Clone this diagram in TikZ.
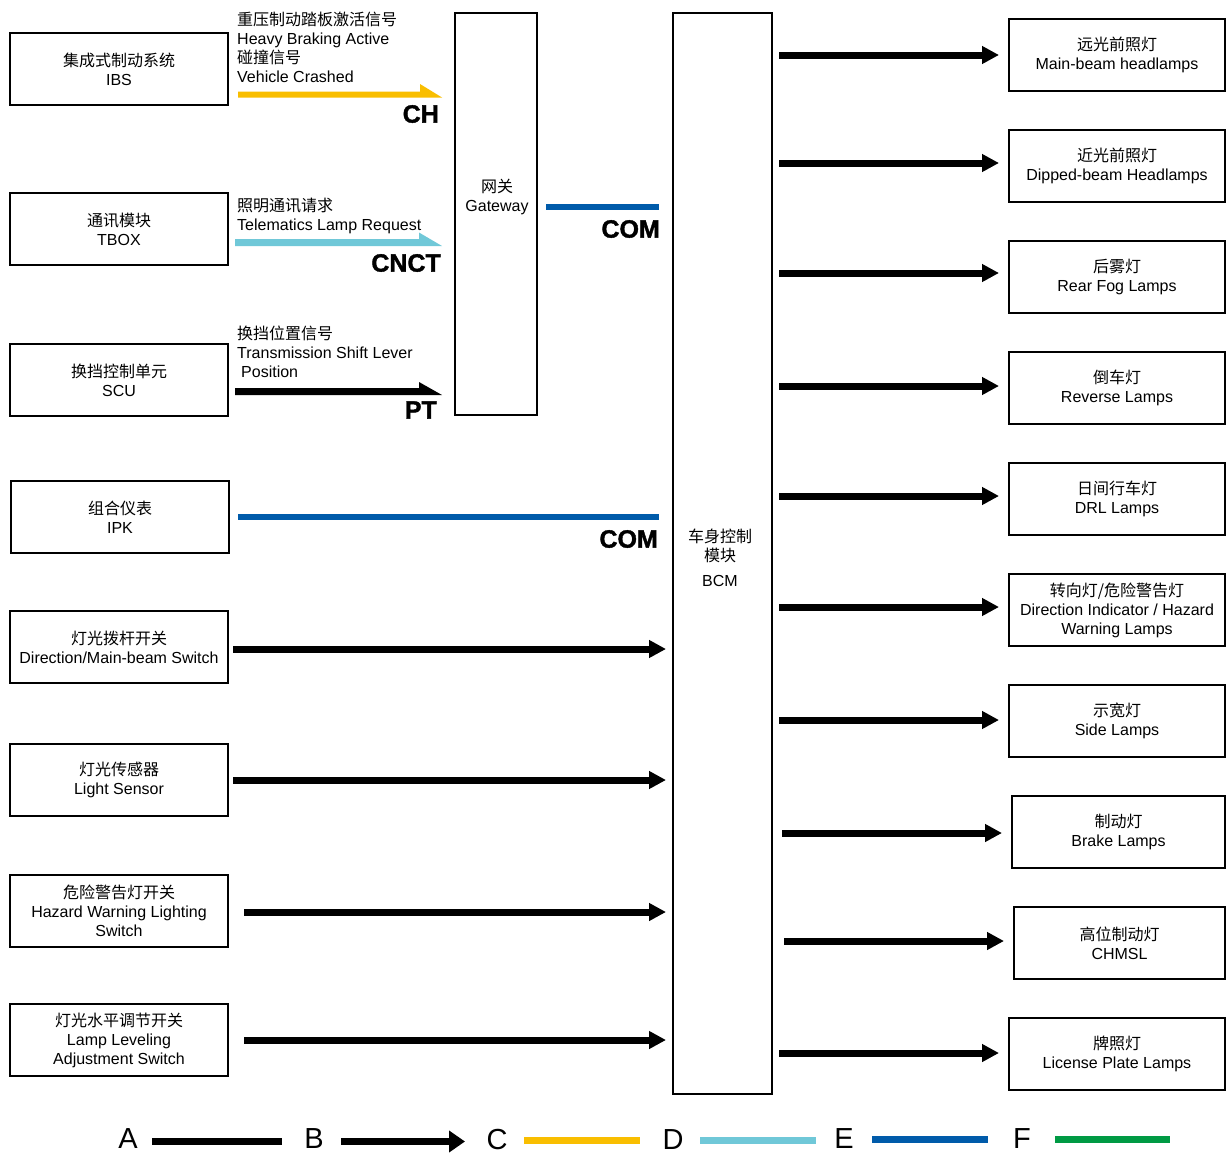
\documentclass[tikz,border=0pt]{standalone}
\usepackage{fontspec}
\setmainfont{Liberation Sans}
\newfontfamily\zhfont{Noto Sans CJK SC}
\newfontfamily\busfont[FakeBold=1.5]{Liberation Sans Bold}
\usetikzlibrary{arrows.meta,calc}
\newcommand\zh[1]{{\zhfont #1}}
\newcommand\txtsize{\fontsize{16}{19}\selectfont}
\definecolor{chy}{RGB}{249,190,0}
\definecolor{cnct}{RGB}{112,200,216}
\definecolor{comb}{RGB}{0,91,170}
\definecolor{pgreen}{RGB}{0,154,68}
\tikzset{
  box/.style={draw, line width=2pt, minimum width=218pt, minimum height=72pt, inner sep=0pt, align=center, font=\txtsize},
  bigarrow/.style={line width=7pt, -{Triangle[length=17pt,width=17pt]}},
  lbl/.style={font=\txtsize, align=left, anchor=north west, inner sep=0pt},
  bus/.style={font=\fontsize{25}{30}\selectfont\busfont, anchor=east, inner sep=0pt},
  comline/.style={line width=6pt, draw=comb},
  leg/.style={font=\fontsize{29}{32}\selectfont, inner sep=0pt},
  legline/.style={line width=7pt}
}
\begin{document}
\begin{tikzpicture}[x=1pt,y=-1pt]
\useasboundingbox (0,0) rectangle (1226,1154);
\fill[white] (0,0) rectangle (1226,1154);

% left boxes
\node[box] (ibs) at (119,69) {\zh{集成式制动系统}\\IBS};
\node[box] (tbox) at (119,229) {\zh{通讯模块}\\TBOX};
\node[box] (scu) at (119,380) {\zh{换挡控制单元}\\SCU};
\node[box] (ipk) at (120,517) {\zh{组合仪表}\\IPK};
\node[box] (dms) at (119,647) {\zh{灯光拨杆开关}\\Direction/Main-beam Switch};
\node[box] (ls) at (119,780) {\zh{灯光传感器}\\Light Sensor};
\node[box] (hz) at (119,911) {\zh{危险警告灯开关}\\Hazard Warning Lighting\\Switch};
\node[box] (ll) at (119,1040) {\zh{灯光水平调节开关}\\Lamp Leveling\\Adjustment Switch};

% gateway and BCM
\node[box, minimum width=82pt, minimum height=402pt] (gw) at (496,214) {};
\node[font=\txtsize, align=center] (gwt) at (497,197) {\zh{网关}\\Gateway};
\node[box, minimum width=99pt, minimum height=1081pt] (bcm) at (722.5,553.5) {};
\node[font=\txtsize, align=center] (bcmt) at (720,558) {\zh{车身控制}\\\zh{模块}\\[6pt]BCM};

% right boxes
\node[box, minimum width=216pt] (mb) at (1117,55) {\zh{远光前照灯}\\Main-beam headlamps};
\node[box, minimum width=216pt] (dip) at (1117,166) {\zh{近光前照灯}\\Dipped-beam Headlamps};
\node[box, minimum width=216pt] (fog) at (1117,277) {\zh{后雾灯}\\Rear Fog Lamps};
\node[box, minimum width=216pt] (rev) at (1117,388) {\zh{倒车灯}\\Reverse Lamps};
\node[box, minimum width=216pt] (drl) at (1117,499) {\zh{日间行车灯}\\DRL Lamps};
\node[box, minimum width=216pt] (di) at (1117,610) {\zh{转向灯/危险警告灯}\\Direction Indicator / Hazard\\Warning Lamps};
\node[box, minimum width=216pt] (side) at (1117,721) {\zh{示宽灯}\\Side Lamps};
\node[box, minimum width=213pt] (brk) at (1118.5,832) {\zh{制动灯}\\Brake Lamps};
\node[box, minimum width=211pt] (chmsl) at (1119.5,943) {\zh{高位制动灯}\\CHMSL};
\node[box, minimum width=216pt] (lic) at (1117,1054) {\zh{牌照灯}\\License Plate Lamps};

% BCM outputs
\foreach \n/\dy/\sx in {mb/0/6, dip/-3/6, fog/-4/6, rev/-2/6, drl/-3/6, di/-3/6, side/-1/6, brk/1/9, chmsl/-2/11, lic/-1/6}
  \draw[bigarrow] ($(bcm.east |- \n.west)+(\sx,\dy)$) -- ($(\n.west)+(-9,\dy)$);

% BCM inputs
\draw[bigarrow] ($(dms.east)+(4,2)$) -- ($(bcm.west |- dms.east)+(-6,2)$);
\draw[bigarrow] ($(ls.east)+(4,0)$) -- ($(bcm.west |- ls.east)+(-6,0)$);
\draw[bigarrow] ($(hz.east)+(15,1)$) -- ($(bcm.west |- hz.east)+(-6,1)$);
\draw[bigarrow] ($(ll.east)+(15,0)$) -- ($(bcm.west |- ll.east)+(-6,0)$);

% gateway inputs (half-head arrows)
\coordinate (chs) at ($(ibs.east)+(9,28.5)$);
\coordinate (che) at ($(gw.west |- chs)+(-12,0)$);
\fill[chy] (chs) -- ++(0,-6) -- ($(che)+(-22,-6)$) -- ($(che)+(-22,-13.5)$) -- (che) -- cycle;
\coordinate (cns) at ($(tbox.east)+(6,17)$);
\coordinate (cne) at ($(gw.west |- cns)+(-12,0)$);
\fill[cnct] (cns) -- ++(0,-7) -- ($(cne)+(-23,-7)$) -- ($(cne)+(-23,-13.5)$) -- (cne) -- cycle;
\coordinate (pts) at ($(scu.east)+(6,15)$);
\coordinate (pte) at ($(gw.west |- pts)+(-12,0)$);
\fill[black] (pts) -- ++(0,-7) -- ($(pte)+(-23,-7)$) -- ($(pte)+(-23,-13)$) -- (pte) -- cycle;

% signal labels
\node[lbl] (chl) at (237,12) {\zh{重压制动踏板激活信号}\\Heavy Braking Active\\\zh{碰撞信号}\\Vehicle Crashed};
\node[lbl] (cnl) at (237,198) {\zh{照明通讯请求}\\Telematics Lamp Request};
\node[lbl] (ptl) at (237,326) {\zh{换挡位置信号}\\Transmission Shift Lever\\\hspace*{4pt}Position};

% bus labels
\node[bus] (chb) at (439,114) {CH};
\node[bus] (cnb) at (441,263) {CNCT};
\node[bus] (ptb) at (437,410) {PT};
\node[bus] (com1) at (660,229) {COM};
\node[bus] (com2) at (658,539) {COM};

% COM lines
\draw[comline] ($(gw.east)+(8,-7)$) -- ($(bcm.west |- gw.east)+(-13,-7)$);
\draw[comline] ($(ipk.east)+(8,0)$) -- ($(bcm.west |- ipk.east)+(-13,0)$);

% legend
\node[leg] (la) at (128,1138.5) {A};
\node[leg] (lb) at (314,1138.5) {B};
\node[leg] (lc) at (497,1139.5) {C};
\node[leg] (ld) at (673,1139.5) {D};
\node[leg] (le) at (844,1138.5) {E};
\node[leg] (lf) at (1022,1138.5) {F};
\draw[legline] ($(la)+(24,3)$) -- ++(130,0);
\draw[legline, -{Triangle[length=16pt,width=21pt]}] ($(lb)+(27,3)$) -- ++(124,0);
\draw[legline, chy] ($(lc)+(27,1)$) -- ++(116,0);
\draw[legline, cnct] ($(ld)+(27,1)$) -- ++(116,0);
\draw[legline, comb] ($(le)+(28,1)$) -- ++(116,0);
\draw[legline, pgreen] ($(lf)+(33,1)$) -- ++(115,0);
\end{tikzpicture}
\end{document}
